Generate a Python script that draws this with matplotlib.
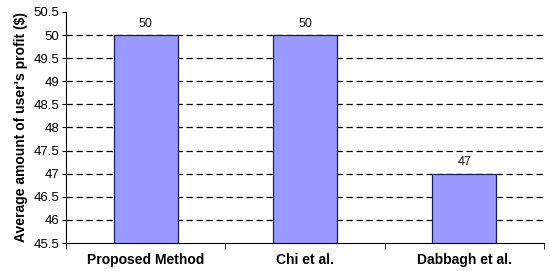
import matplotlib.pyplot as plt
from matplotlib.ticker import MultipleLocator

methods = ['Proposed Method', 'Chi et al.', 'Dabbagh et al.']
profit = [50, 50, 47]

plt.rcParams['font.family'] = ['Liberation Sans', 'DejaVu Sans']

fig = plt.figure(figsize=(5.5, 2.71), dpi=100)
ax = fig.add_axes([66 / 550, 1 - 243 / 271, (544 - 66) / 550, (243 - 12) / 271])

x = range(len(methods))
ax.bar(x, [p - 45.5 for p in profit], bottom=45.5, width=0.4,
       color='#9999ff', edgecolor='#1a1a66', linewidth=0.9, zorder=3)
for i, p in enumerate(profit):
    ax.text(i, p + 0.12, str(p), ha='center', va='bottom', fontsize=9, color='#111111')

ax.set_xlim(-0.5, len(methods) - 0.5)
ax.set_ylim(45.5, 50.5)
ax.yaxis.set_major_locator(MultipleLocator(0.5))
ax.set_yticklabels([f'{v:g}' for v in ax.get_yticks()])
for v in ax.get_yticks():
    if 45.5 < v < 50.5:
        ax.axhline(v, color='black', linestyle=(0, (5, 3)), linewidth=0.9, zorder=1)

ax.set_xticks(list(x))
ax.set_xticklabels(methods, fontweight='bold', fontsize=10)
ax.tick_params(axis='x', length=0, pad=7)
# category boundary ticks
ax.set_xticks([-0.5, 0.5, 1.5, 2.5], minor=True)
ax.tick_params(axis='x', which='minor', length=4, direction='out')
ax.tick_params(axis='y', labelsize=9.5, length=3, direction='out', pad=2)

ax.spines['top'].set_visible(False)
ax.spines['right'].set_visible(False)
ax.set_ylabel("Average amount of user's profit ($)", fontweight='bold', fontsize=10, labelpad=4)

fig.savefig('out.png', dpi=100)
